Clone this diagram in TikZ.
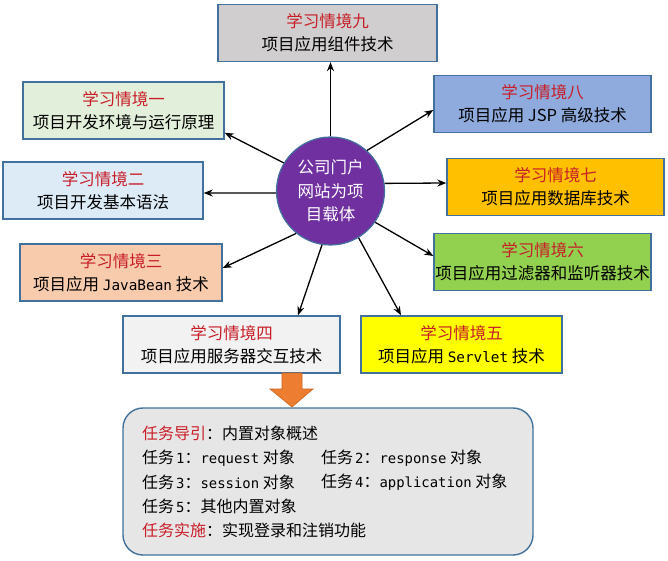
\documentclass[tikz,border=0pt]{standalone}
\usepackage{fontspec}
\setmainfont{Noto Sans CJK SC}
\newfontfamily\monofont[Scale=0.87]{DejaVu Sans Mono}
\usetikzlibrary{arrows.meta}
\definecolor{edgeblue}{RGB}{65,113,156}
\definecolor{titlered}{RGB}{200,30,40}
\definecolor{hubpurple}{RGB}{112,48,160}
\definecolor{fillnine}{RGB}{208,206,206}
\definecolor{fillone}{RGB}{226,239,218}
\definecolor{filleight}{RGB}{143,170,220}
\definecolor{filltwo}{RGB}{221,235,247}
\definecolor{fillseven}{RGB}{255,192,0}
\definecolor{fillsix}{RGB}{146,208,80}
\definecolor{fillthree}{RGB}{248,203,173}
\definecolor{fillfour}{RGB}{242,242,242}
\definecolor{fillfive}{RGB}{255,255,0}
\definecolor{filltask}{RGB}{231,230,230}
\definecolor{arroworange}{RGB}{237,125,49}
\definecolor{arrowedge}{RGB}{200,100,30}
\newcommand{\en}[1]{{\monofont #1}}
\newcommand{\hd}[1]{\textcolor{titlered}{#1}}
\newcommand{\rw}[1]{任务\hspace{2pt}\en{#1}}
\begin{document}
\begin{tikzpicture}[x=1pt,y=-1pt,
  stage/.style={draw=edgeblue,line width=1.4pt,minimum height=57pt,
    inner sep=0pt,align=center,font=\fontsize{16.5}{23}\selectfont},
  hub/.style={circle,draw=edgeblue,line width=1.2pt,fill=hubpurple,
    minimum size=108pt,inner sep=0pt,align=center,text=white,
    font=\fontsize{16.5}{23.5}\selectfont},
  link/.style={-{Stealth[length=9pt,width=7pt]},line width=1.3pt},
  taskline/.style={anchor=west,inner sep=0pt,font=\fontsize{16}{20}\selectfont}]
  \useasboundingbox (0,0) rectangle (668,561);
  \node[hub] (hub) at (330.5,191) {公司门户\\网站为项\\目载体};
  % the nine learning situations
  \node[stage,fill=fillnine,minimum width=219pt] (s9) at (327.5,33)
    {\hd{学习情境九}\\项目应用组件技术};
  \node[stage,fill=fillone,minimum width=201pt] (s1) at (123.5,110.5)
    {\hd{学习情境一}\\项目开发环境与运行原理};
  \node[stage,fill=filleight,minimum width=217pt] (s8) at (542.5,104)
    {\hd{学习情境八}\\项目应用 JSP 高级技术};
  \node[stage,fill=filltwo,minimum width=200pt] (s2) at (103,190.5)
    {\hd{学习情境二}\\项目开发基本语法};
  \node[stage,fill=fillseven,minimum width=217pt] (s7) at (555.5,187)
    {\hd{学习情境七}\\项目应用数据库技术};
  \node[stage,fill=fillsix,minimum width=217pt] (s6) at (542.5,262)
    {\hd{学习情境六}\\项目应用过滤器和监听器技术};
  \node[stage,fill=fillthree,minimum width=202pt] (s3) at (121,272.5)
    {\hd{学习情境三}\\项目应用 \en{JavaBean} 技术};
  \node[stage,fill=fillfour,minimum width=217pt] (s4) at (231.5,344.5)
    {\hd{学习情境四}\\项目应用服务器交互技术};
  \node[stage,fill=fillfive,minimum width=201pt] (s5) at (461.5,344.5)
    {\hd{学习情境五}\\项目应用 \en{Servlet} 技术};
  % links from the hub
  \draw[link] (hub.90) -- (hub.90 |- s9.south);
  \draw[link] (hub.149) -- ([yshift=7pt]s1.south east);
  \draw[link] (hub.48) -- ([yshift=-6pt]s8.west);
  \draw[link] (hub.8) -- ([yshift=4pt]s7.west);
  \draw[link] (hub.182) -- ([yshift=-2.5pt]s2.east);
  \draw[link] (hub.231) -- ([yshift=4.5pt]s3.east);
  \draw[link] (hub.325) -- ([yshift=6pt]s6.west);
  \draw[link] (hub.261) -- ([xshift=66.5pt]s4.north);
  \draw[link] (hub.301) -- ([xshift=-60.5pt]s5.north);
  % task box
  \node[draw=edgeblue,line width=1.4pt,fill=filltask,rounded corners=20pt,
    minimum width=410pt,minimum height=147pt] (tasks) at (328,481.5) {};
  \fill[arroworange,draw=arrowedge,line width=0.6pt]
    (282,373) -- (302,373) -- (302,389) -- (313,389) -- (292,407)
    -- (270,389) -- (282,389) -- cycle;
  \node[taskline] (k1) at (142,433) {\hd{任务导引}：内置对象概述};
  \node[taskline] (k2) at (142,458) {\rw{1}：\en{request} 对象};
  \node[taskline] (k2b) at (321,458) {\rw{2}：\en{response} 对象};
  \node[taskline] (k3) at (142,482.5) {\rw{3}：\en{session} 对象};
  \node[taskline] (k3b) at (321,482.5) {\rw{4}：\en{application} 对象};
  \node[taskline] (k4) at (142,506) {\rw{5}：其他内置对象};
  \node[taskline] (k5) at (142,530) {\hd{任务实施}：实现登录和注销功能};
\end{tikzpicture}
\end{document}
